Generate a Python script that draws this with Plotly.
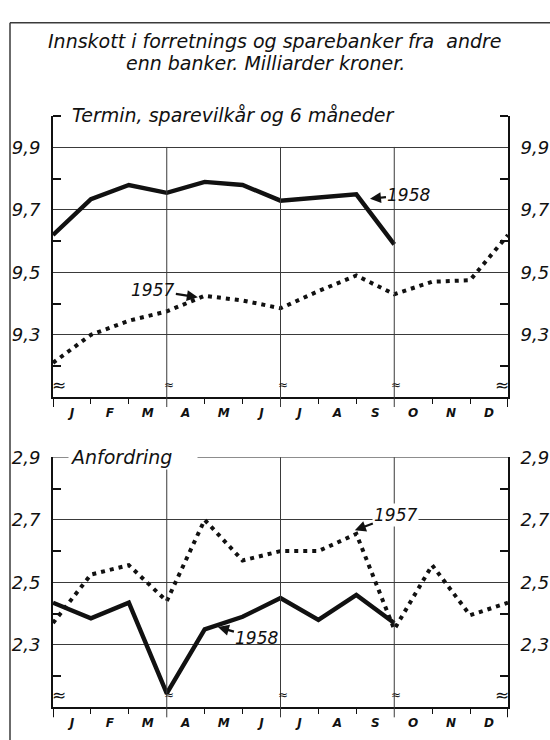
import plotly.graph_objects as go

# ---------------- data ----------------
months = ["J", "F", "M", "A", "M", "J", "J", "A", "S", "O", "N", "D"]
month_centres = [0.5, 1.5, 2.5, 3.5, 4.5, 5.5, 6.5, 7.5, 8.5, 9.5, 10.5, 11.5]
pos_1957 = [0, 1, 2, 3, 4, 5, 6, 7, 8, 9, 10, 11, 12]
pos_1958 = [0, 1, 2, 3, 4, 5, 6, 7, 8, 9]

termin_1957 = [9.21, 9.30, 9.345, 9.375, 9.425, 9.41, 9.385, 9.44, 9.49, 9.43, 9.47, 9.475, 9.62]
termin_1958 = [9.62, 9.735, 9.78, 9.755, 9.79, 9.78, 9.73, 9.74, 9.75, 9.59]
anf_1957 = [2.37, 2.525, 2.555, 2.44, 2.70, 2.57, 2.60, 2.60, 2.655, 2.35, 2.555, 2.395, 2.435]
anf_1958 = [2.435, 2.385, 2.435, 2.145, 2.35, 2.39, 2.45, 2.38, 2.46, 2.37]

top_ticks = [9.3, 9.5, 9.7, 9.9]
top_ticktext = ["9,3", "9,5", "9,7", "9,9"]
top_minor = [9.2, 9.4, 9.6, 9.8, 10.0]
bot_ticks = [2.3, 2.5, 2.7, 2.9]
bot_ticktext = ["2,3", "2,5", "2,7", "2,9"]
bot_minor = [2.2, 2.4, 2.6, 2.8]
month_minor = [1, 2, 4, 5, 7, 8, 10, 11]
quarter_lines = [3, 6, 9]
break_pos = [0, 3, 6, 9, 12]

# ---------------- layout helpers ----------------
W, H = 550, 740
def px(x):
    return x / W
def py(y):
    return 1 - y / H

FONT = "DejaVu Sans"
INK = "#111111"
GRID = "#3a3a3a"

XL, XR = 53, 508
TOP_T, TOP_B = 107, 392
BOT_T, BOT_B = 453, 707

fig = go.Figure()

solid = dict(color=INK, width=4.4)
dotted = dict(color=INK, width=4, dash="4px,5px")

fig.add_trace(go.Scatter(x=pos_1957, y=termin_1957, mode="lines", line=dotted,
                         xaxis="x", yaxis="y", showlegend=False, hoverinfo="skip"))
fig.add_trace(go.Scatter(x=pos_1958, y=termin_1958, mode="lines", line=solid,
                         xaxis="x", yaxis="y", showlegend=False, hoverinfo="skip"))
fig.add_trace(go.Scatter(x=pos_1957, y=anf_1957, mode="lines", line=dotted,
                         xaxis="x2", yaxis="y2", showlegend=False, hoverinfo="skip"))
fig.add_trace(go.Scatter(x=pos_1958, y=anf_1958, mode="lines", line=solid,
                         xaxis="x2", yaxis="y2", showlegend=False, hoverinfo="skip"))
# empty traces to carry the right-hand axes
fig.add_trace(go.Scatter(x=[], y=[], xaxis="x", yaxis="y3", showlegend=False))
fig.add_trace(go.Scatter(x=[], y=[], xaxis="x2", yaxis="y4", showlegend=False))

tickfont_y = dict(family=FONT, size=18, color=INK, style="italic")
tickfont_x = dict(family=FONT, size=12, color=INK, style="italic", weight="bold")

def xaxis(anchor):
    return dict(domain=[px(XL), px(XR)], anchor=anchor, range=[0, 12],
                showline=True, linewidth=2, linecolor=INK,
                tickmode="array", tickvals=month_centres, ticktext=months,
                ticks="", tickfont=tickfont_x, showgrid=False, zeroline=False,
                ticklabelstandoff=3,
                minor=dict(tickmode="array", tickvals=month_minor, ticks="outside",
                           ticklen=5, tickwidth=1, tickcolor=INK, showgrid=False),
                fixedrange=True)

def yaxis(dom, rng, tv, tt, mv, side="left", overlay=None, grid=True):
    d = dict(domain=dom, range=rng, anchor="x" if dom[0] > 0.4 else "x2",
             side=side, showline=True, linewidth=2, linecolor=INK,
             tickmode="array", tickvals=tv, ticktext=tt, ticks="",
             tickfont=tickfont_y, showgrid=grid, gridcolor=GRID, gridwidth=1,
             zeroline=False, ticklabelstandoff=7,
             minor=dict(tickmode="array", tickvals=mv, ticks="inside", ticklen=8,
                        tickwidth=1.5, tickcolor=INK, showgrid=False),
             fixedrange=True)
    if overlay:
        d["overlaying"] = overlay
    return d

top_dom = [py(TOP_B), py(TOP_T)]
bot_dom = [py(BOT_B), py(BOT_T)]

fig.update_layout(
    width=W, height=H, autosize=False,
    margin=dict(l=0, r=0, t=0, b=0, pad=0),
    paper_bgcolor="white", plot_bgcolor="white",
    xaxis=xaxis("y"),
    xaxis2=xaxis("y2"),
    yaxis=yaxis(top_dom, [9.1, 10.0], top_ticks, top_ticktext, top_minor),
    yaxis3=yaxis(top_dom, [9.1, 10.0], top_ticks, top_ticktext, top_minor,
                 side="right", overlay="y", grid=False),
    yaxis2=yaxis(bot_dom, [2.1, 2.9], bot_ticks, bot_ticktext, bot_minor),
    yaxis4=yaxis(bot_dom, [2.1, 2.9], bot_ticks, bot_ticktext, bot_minor,
                 side="right", overlay="y2", grid=False),
)

shapes = []
# page frame (left and top)
shapes.append(dict(type="line", xref="paper", yref="paper", x0=px(10), x1=px(10),
                   y0=py(12), y1=py(740), line=dict(color=GRID, width=1.5)))
shapes.append(dict(type="line", xref="paper", yref="paper", x0=px(10), x1=px(550),
                   y0=py(12), y1=py(12), line=dict(color=GRID, width=1.5)))
# quarter lines
for xr, top_px, bot_px in (("x", 138, TOP_B + 10), ("x2", BOT_T, BOT_B + 10)):
    for q in quarter_lines:
        shapes.append(dict(type="line", xref=xr, yref="paper", x0=q, x1=q,
                           y0=py(bot_px), y1=py(top_px),
                           line=dict(color=GRID, width=1)))
    for e in (0, 12):
        shapes.append(dict(type="line", xref=xr, yref="paper", x0=e, x1=e,
                           y0=py(bot_px), y1=py(bot_px - 10),
                           line=dict(color=INK, width=2)))
# top border of lower panel
shapes.append(dict(type="line", xref="x2", yref="y2", x0=0, x1=12, y0=2.9, y1=2.9,
                   line=dict(color=GRID, width=1)))
fig.update_layout(shapes=shapes)

ann = []
titlefont = dict(family=FONT, size=19, color=INK, style="italic")
ann.append(dict(text="Innskott i forretnings og sparebanker fra  andre", xref="paper", yref="paper",
                x=px(275), y=py(30), showarrow=False, font=titlefont, xanchor="center", yanchor="middle"))
ann.append(dict(text="enn banker. Milliarder kroner.", xref="paper", yref="paper",
                x=px(265), y=py(53), showarrow=False, font=titlefont, xanchor="center", yanchor="middle"))
ann.append(dict(text="Termin, sparevilkår og 6 måneder", xref="paper", yref="paper",
                x=px(70), y=py(106), showarrow=False, font=titlefont, xanchor="left", yanchor="middle",
                bgcolor="white"))
ann.append(dict(text="Anfordring", xref="paper", yref="paper",
                x=px(68), y=py(453), showarrow=False, font=titlefont, xanchor="left", yanchor="middle",
                bgcolor="white", width=126, align="left"))

labfont = dict(family=FONT, size=17, color=INK, style="italic")
arrow = dict(showarrow=True, arrowhead=2, arrowsize=1, arrowwidth=2.2, arrowcolor=INK, font=labfont)
ann.append(dict(text="1958", xref="x", yref="y", x=8.36, y=9.736, ax=39, ay=-4, **arrow))
ann.append(dict(text="1957", xref="x", yref="y", x=3.82, y=9.42, ax=-45, ay=-7, **arrow))
ann.append(dict(text="1958", xref="x2", yref="y2", x=4.35, y=2.357, ax=39, ay=11, **arrow))
ann.append(dict(text="1957", xref="x2", yref="y2", x=7.96, y=2.667, ax=41, ay=-15, bgcolor="white", **arrow))

for xr, yr, yv in (("x", "y", 9.14), ("x2", "y2", 2.14)):
    for b in break_pos:
        edge = b in (0, 12)
        shift = 6 if b == 0 else (-6 if b == 12 else 2)
        ann.append(dict(text="≈", xref=xr, yref=yr, x=b, y=yv, showarrow=False,
                        font=dict(family=FONT, size=17 if edge else 12, color=INK),
                        xshift=shift))
fig.update_layout(annotations=ann)

fig.write_html("out.html", config={"displayModeBar": False},
               post_script="document.body.style.margin='0';")
